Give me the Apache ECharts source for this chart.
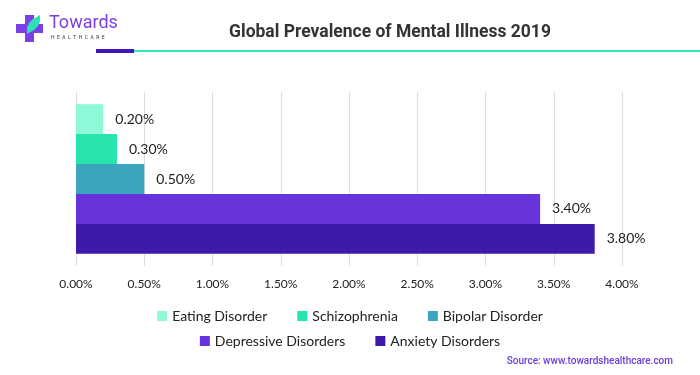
<!DOCTYPE html>
<html>
<head>
<meta charset="utf-8">
<script src="https://cdn.jsdelivr.net/npm/echarts@6/dist/echarts.min.js"></script>
<style>
    html, body {margin: 0; padding: 0; background: #fff;}
    #main {width: 700px; height: 375px;}
</style>
</head>
<body>
<div id="main"></div>
<script>
// 数据
let categories = ['2019'];
let seriesNames = ['Eating Disorder', 'Schizophrenia', 'Bipolar Disorder', 'Depressive Disorders', 'Anxiety Disorders'];
let seriesValues = [0.20, 0.30, 0.50, 3.40, 3.80];
let seriesColors = ['#8ff8d8', '#27e3ad', '#3ba5bd', '#6733da', '#3f19a9'];
let xTicks = [0, 0.5, 1, 1.5, 2, 2.5, 3, 3.5, 4];

let myChart = echarts.init(document.getElementById('main'));

let sData = [];
for (let i = 0; i < seriesNames.length; i++) {
    sData.push({
        name: seriesNames[i],
        type: 'bar',
        data: [seriesValues[i]],
        barGap: 0,
        barCategoryGap: '14%',
        itemStyle: {color: seriesColors[i]},
        label: {
            show: true,
            position: 'right',
            distance: 12,
            color: '#222',
            fontSize: 14,
            fontFamily: 'Lato',
            formatter: function (p) {
                return p.value.toFixed(2) + '%';
            }
        }
    });
}

let legendStyle = {
    icon: 'rect',
    itemWidth: 10,
    itemHeight: 10,
    itemGap: 30,
    textStyle: {fontSize: 14, color: '#222', fontFamily: 'Lato'}
};

let option = {
    textStyle: {fontFamily: 'Lato'},
    title: {
        text: 'Global Prevalence of Mental Illness 2019',
        left: 385,
        textAlign: 'center',
        top: 19,
        textStyle: {fontSize: 17.5, fontWeight: 'bold', color: '#333', fontFamily: 'Roboto'}
    },
    legend: [
        Object.assign({data: seriesNames.slice(0, 3), left: 'center', top: 304}, legendStyle),
        Object.assign({data: seriesNames.slice(3), left: 'center', top: 329}, legendStyle)
    ],
    grid: {left: 76, right: 78, top: 92, bottom: 109},
    xAxis: {
        type: 'value',
        min: xTicks[0],
        max: xTicks[xTicks.length - 1],
        interval: 0.5,
        axisLine: {show: false},
        axisTick: {show: false},
        splitLine: {show: true, lineStyle: {color: '#dcdcdc'}},
        axisLabel: {
            margin: 12,
            fontSize: 12,
            color: '#222',
            fontFamily: 'Lato',
            formatter: function (v) {
                return v.toFixed(2) + '%';
            }
        }
    },
    yAxis: {
        type: 'category',
        data: categories,
        inverse: true,
        axisLine: {show: false},
        axisTick: {show: false},
        axisLabel: {show: false}
    },
    series: sData,
    graphic: [
        // 标题下的线
        {type: 'rect', shape: {x: 134, y: 50, width: 566, height: 2}, style: {fill: '#2ee6b4'}},
        {type: 'rect', shape: {x: 96, y: 49, width: 38, height: 4}, style: {fill: '#4216b8'}},
        // logo
        {type: 'rect', shape: {x: 25, y: 15, width: 9, height: 27}, style: {fill: '#7c3fe6'}},
        {type: 'rect', shape: {x: 16, y: 24, width: 27, height: 9}, style: {fill: '#7c3fe6'}},
        {type: 'polygon', shape: {points: [[27, 34], [27, 28], [29, 23], [33, 19], [40, 15], [40, 21], [38, 26], [34, 30]]}, style: {fill: '#2ee0b6'}},
        {type: 'text', left: 49, top: 14, style: {text: 'Towards', fontSize: 18, fill: '#7c3fe6', fontFamily: 'Roboto'}},
        {type: 'text', left: 51, top: 35, style: {text: 'H  E  A  L  T  H  C  A  R  E', fontSize: 5, fill: '#333', fontFamily: 'Roboto'}},
        // 来源
        {type: 'text', right: 27, top: 356, style: {text: 'Source: www.towardshealthcare.com', fontSize: 10, fontWeight: 500, fill: '#6a3fd8', fontFamily: 'Roboto'}}
    ]
};

myChart.setOption(option);
</script>
</body>
</html>
